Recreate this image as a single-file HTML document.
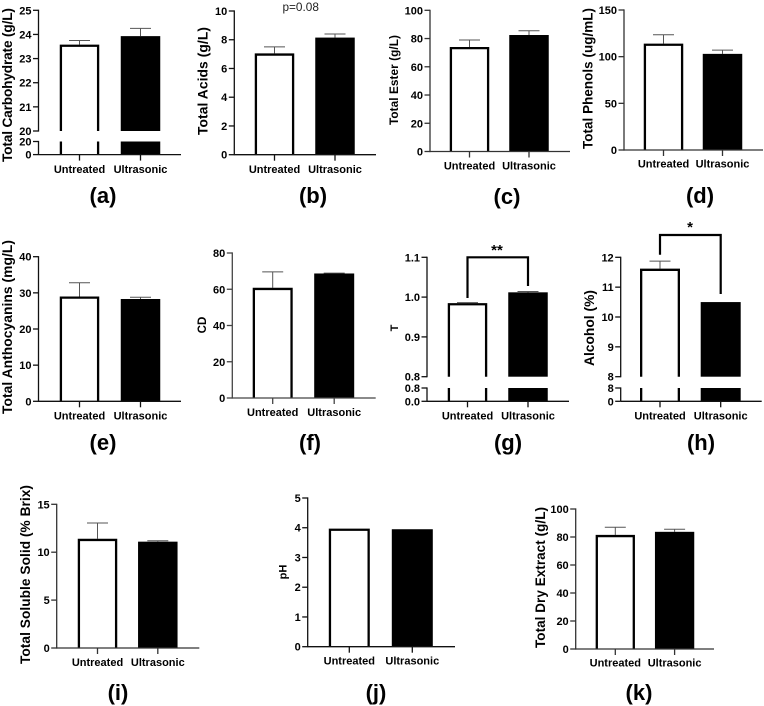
<!DOCTYPE html>
<html lang="en">
<head>
<meta charset="utf-8">
<title>Untreated vs Ultrasonic wine properties</title>
<style>
html,body{margin:0;padding:0;background:#fff;width:764px;height:706px;overflow:hidden}
svg{display:block;filter:blur(0.35px)}
text{font-family:"Liberation Sans",sans-serif;fill:#000}
.yt{font-weight:700}
.pl{font-size:22px;font-weight:700;text-anchor:middle}
</style>
</head>
<body>
<svg id="fig" width="764" height="706" viewBox="0 0 764 706" xmlns="http://www.w3.org/2000/svg">
  <rect width="764" height="706" fill="#fff"/>

  <text class="yt" font-size="13.7" transform="translate(12 85) rotate(-90)" text-anchor="middle" textLength="154">Total Carbohydrate (g/L)</text>
  <text class="yt" font-size="13.8" transform="translate(207.5 81) rotate(-90)" text-anchor="middle" textLength="108">Total Acids (g/L)</text>
  <text class="yt" font-size="11.8" transform="translate(398 80) rotate(-90)" text-anchor="middle" textLength="90">Total Ester (g/L)</text>
  <text class="yt" font-size="13.4" transform="translate(592.5 78.5) rotate(-90)" text-anchor="middle" textLength="141">Total Phenols (ug/mL)</text>
  <text class="yt" font-size="13.8" transform="translate(12 327) rotate(-90)" text-anchor="middle" textLength="174">Total Anthocyanins (mg/L)</text>
  <text class="yt" font-size="11.5" transform="translate(206 325) rotate(-90)" text-anchor="middle">CD</text>
  <text class="yt" font-size="11" transform="translate(398 328) rotate(-90)" text-anchor="middle">T</text>
  <text class="yt" font-size="13.8" transform="translate(594 328) rotate(-90)" text-anchor="middle" textLength="76">Alcohol (%)</text>
  <text class="yt" font-size="13.7" transform="translate(30 574.5) rotate(-90)" text-anchor="middle" textLength="179">Total Soluble Solid (% Brix)</text>
  <text class="yt" font-size="11" transform="translate(286.5 572) rotate(-90)" text-anchor="middle">pH</text>
  <text class="yt" font-size="13.5" transform="translate(545 577.5) rotate(-90)" text-anchor="middle" textLength="141">Total Dry Extract (g/L)</text>

  <text class="pl" x="103" y="203">(a)</text>
  <text class="pl" x="313" y="203">(b)</text>
  <text class="pl" x="507" y="204">(c)</text>
  <text class="pl" x="700" y="203">(d)</text>
  <text class="pl" x="103" y="450">(e)</text>
  <text class="pl" x="310" y="450">(f)</text>
  <text class="pl" x="508" y="450">(g)</text>
  <text class="pl" x="701" y="450">(h)</text>
  <text class="pl" x="118" y="700">(i)</text>
  <text class="pl" x="376" y="700">(j)</text>
  <text class="pl" x="639" y="700">(k)</text>

  <text x="300.7" y="11" font-size="11.8" text-anchor="middle" style="fill:#222">p=0.08</text>
  <text x="497" y="255" font-size="15" font-weight="700" text-anchor="middle">**</text>
  <text x="690" y="232" font-size="15" font-weight="700" text-anchor="middle">*</text>
</svg>

<script>
const categories = ['Untreated', 'Ultrasonic'];

const carbohydrateMeans = [23.58, 23.93];
const carbohydrateErrors = [0.17, 0.32];
const carbohydrateTicks = ['25', '24', '23', '22', '21', '20'];
const carbohydrateLowerTicks = ['20', '0'];

const acidsMeans = [7.05, 8.15];
const acidsErrors = [0.45, 0.25];
const acidsTicks = ['10', '8', '6', '4', '2', '0'];

const esterMeans = [74, 82.5];
const esterErrors = [5, 3];
const esterTicks = ['100', '80', '60', '40', '20', '0'];

const phenolsMeans = [114, 103];
const phenolsErrors = [9.5, 4];
const phenolsTicks = ['150', '100', '50', '0'];

const anthocyaninsMeans = [29, 28.3];
const anthocyaninsErrors = [3.8, 0.5];
const anthocyaninsTicks = ['40', '30', '20', '10', '0'];

const cdMeans = [60.8, 68.7];
const cdErrors = [8.8, 0.2];
const cdTicks = ['80', '60', '40', '20', '0'];

const tMeans = [0.985, 1.012];
const tErrors = [0.001, 0.002];
const tTicks = ['1.1', '1.0', '0.9', '0.8'];
const tLowerTicks = ['0.8', '0.0'];

const alcoholMeans = [11.62, 10.5];
const alcoholErrors = [0.25, 0];
const alcoholTicks = ['12', '11', '10', '9', '8'];
const alcoholLowerTicks = ['8', '0'];

const solubleMeans = [11.4, 11.1];
const solubleErrors = [1.65, 0.1];
const solubleTicks = ['15', '10', '5', '0'];

const phMeans = [3.97, 3.95];
const phErrors = [0, 0];
const phTicks = ['5', '4', '3', '2', '1', '0'];

const extractMeans = [81.5, 83.7];
const extractErrors = [5.5, 1.8];
const extractTicks = ['100', '80', '60', '40', '20', '0'];

const SVG_NS = 'http://www.w3.org/2000/svg';
const fig = document.getElementById('fig');

function mk(parent, tag, attrs) {
  const el = document.createElementNS(SVG_NS, tag);
  for (const k in attrs) el.setAttribute(k, attrs[k]);
  parent.appendChild(el);
  return el;
}

function drawPanel(p) {
  const g = mk(fig, 'g', {});
  
  

  const topMax = Number(p.ticks[0]);
  const topMin = Number(p.ticks[p.ticks.length - 1]);
  const bottomPx = p.broken ? p.broken.topBottom : p.zero;

  function yUpper(v) {
    return bottomPx - (v - topMin) / (topMax - topMin) * (bottomPx - p.top);
  }
  function yLower(v) {
    const lowMax = Number(p.lowerTicks[0]);
    return p.zero - v / lowMax * (p.zero - p.broken.lowTop);
  }
  function xScale(i) {
    return p.first + i * p.step;
  }

  const axisColor = p.axisColor || '#111';

  categories.forEach(function (cat, i) {
    const cx = xScale(i);
    const l = cx - p.barW / 2;
    const r = cx + p.barW / 2;
    const sw = 2.3;
    const yVal = yUpper(p.means[i]);

    if (p.errors[i] > 0) {
      const yErr = yUpper(p.means[i] + p.errors[i]);
      const stem = mk(g, 'line', {x1: cx, x2: cx, y1: yVal, y2: yErr, stroke: '#555', 'stroke-width': 1});
      
      
      const cap = mk(g, 'line', {x1: cx - 10.5, x2: cx + 10.5, y1: yErr, y2: yErr, stroke: '#555', 'stroke-width': 1});
      
      
    }

    if (i === 1) {
      const bar = mk(g, 'rect', {x: l, y: yVal, width: r - l, height: bottomPx - yVal, fill: '#000'});
      
      
      if (p.broken) {
        const low = mk(g, 'rect', {x: l, y: p.broken.lowTop, width: r - l, height: p.zero - p.broken.lowTop, fill: '#000'});
        
        
      }
    } else {
      const a = l + sw / 2;
      const b = r - sw / 2;
      const t = yVal + sw / 2;
      const bar = mk(g, 'path', {d: 'M' + a + ' ' + bottomPx + 'V' + t + 'H' + b + 'V' + bottomPx, fill: '#fff', stroke: '#000', 'stroke-width': sw});
      
      
      if (p.broken) {
        const low = mk(g, 'path', {d: 'M' + a + ' ' + p.broken.lowTop + 'V' + p.zero + 'M' + b + ' ' + p.broken.lowTop + 'V' + p.zero, fill: 'none', stroke: '#000', 'stroke-width': sw});
        
        
      }
    }

    const tick = mk(g, 'line', {x1: cx, x2: cx, y1: p.zero, y2: p.zero + 6, stroke: axisColor, 'stroke-width': 1.3});
    
    

    const label = mk(g, 'text', {x: cx, y: p.zero + p.labelGap, 'font-size': 11, 'font-weight': 700, 'text-anchor': 'middle'});
    label.textContent = cat;
    
    
  });

  function drawYTick(text, y) {
    const tick = mk(g, 'line', {x1: p.axisX - 5.5, x2: p.axisX, y1: y, y2: y, stroke: axisColor, 'stroke-width': 1.3});
    
    
    const label = mk(g, 'text', {x: p.axisX - 7, y: y + 4, 'font-size': 11, 'font-weight': 700, 'text-anchor': 'end'});
    label.textContent = text;
    
    
  }

  p.ticks.forEach(function (t) { drawYTick(t, yUpper(Number(t))); });

  const axisUp = mk(g, 'line', {x1: p.axisX, x2: p.axisX, y1: p.top - 0.6, y2: bottomPx + 0.6, stroke: axisColor, 'stroke-width': 1.3});
  
  

  if (p.broken) {
    p.lowerTicks.forEach(function (t) { drawYTick(t, yLower(Number(t))); });
    const axisLow = mk(g, 'line', {x1: p.axisX, x2: p.axisX, y1: p.broken.lowTop - 0.6, y2: p.zero, stroke: axisColor, 'stroke-width': 1.3});
    
    
  }

  const xAxis = mk(g, 'line', {x1: p.axisX, x2: p.xEnd, y1: p.zero, y2: p.zero, stroke: axisColor, 'stroke-width': 1.3});
  
  

  if (p.bracket) {
    const x0 = xScale(0);
    const x1 = xScale(1);
    const br = mk(g, 'path', {
      d: 'M' + x0 + ' ' + p.bracket.leftEnd + 'V' + p.bracket.top + 'H' + x1 + 'V' + p.bracket.rightEnd,
      fill: 'none', stroke: '#000', 'stroke-width': 2.2
    });
    
    
  }
}

drawPanel({key: 'a', means: carbohydrateMeans, errors: carbohydrateErrors, ticks: carbohydrateTicks, lowerTicks: carbohydrateLowerTicks,
  axisX: 38.5, xEnd: 181, top: 10.3, zero: 154.6, first: 79.5, step: 61, barW: 39.5, labelGap: 18.5,
  broken: {topBottom: 131, lowTop: 141.5}});
drawPanel({key: 'b', means: acidsMeans, errors: acidsErrors, ticks: acidsTicks,
  axisX: 234.3, xEnd: 376, top: 11, zero: 154.7, first: 274.5, step: 60.5, barW: 39.5, labelGap: 18.5});
drawPanel({key: 'c', means: esterMeans, errors: esterErrors, ticks: esterTicks, axisColor: '#333',
  axisX: 430, xEnd: 570, top: 10.3, zero: 151.5, first: 469.5, step: 59.5, barW: 39.5, labelGap: 18});
drawPanel({key: 'd', means: phenolsMeans, errors: phenolsErrors, ticks: phenolsTicks, axisColor: '#333',
  axisX: 624, xEnd: 763, top: 10, zero: 150, first: 663.5, step: 59, barW: 39.5, labelGap: 17.5});
drawPanel({key: 'e', means: anthocyaninsMeans, errors: anthocyaninsErrors, ticks: anthocyaninsTicks,
  axisX: 38.5, xEnd: 181, top: 256.7, zero: 401.3, first: 79.5, step: 61, barW: 39.5, labelGap: 18});
drawPanel({key: 'f', means: cdMeans, errors: cdErrors, ticks: cdTicks, axisColor: '#444',
  axisX: 232.3, xEnd: 375.7, top: 253, zero: 398, first: 272.7, step: 61.5, barW: 40, labelGap: 18});
drawPanel({key: 'g', means: tMeans, errors: tErrors, ticks: tTicks, lowerTicks: tLowerTicks,
  axisX: 427, xEnd: 569, top: 257.3, zero: 401.3, first: 467.5, step: 60.5, barW: 39.5, labelGap: 18,
  broken: {topBottom: 376.7, lowTop: 388},
  bracket: {top: 257.3, leftEnd: 298, rightEnd: 286}});
drawPanel({key: 'h', means: alcoholMeans, errors: alcoholErrors, ticks: alcoholTicks, lowerTicks: alcoholLowerTicks,
  axisX: 620.7, xEnd: 761.7, top: 257.3, zero: 401.3, first: 660, step: 60.7, barW: 40, labelGap: 18,
  broken: {topBottom: 376.7, lowTop: 388},
  bracket: {top: 235, leftEnd: 254.7, rightEnd: 294}});
drawPanel({key: 'i', means: solubleMeans, errors: solubleErrors, ticks: solubleTicks, axisColor: '#333',
  axisX: 56.7, xEnd: 199.3, top: 504.3, zero: 648, first: 97.5, step: 60.3, barW: 39.5, labelGap: 18});
drawPanel({key: 'j', means: phMeans, errors: phErrors, ticks: phTicks,
  axisX: 307.7, xEnd: 455, top: 498, zero: 646.7, first: 349.3, step: 63, barW: 41, labelGap: 18});
drawPanel({key: 'k', means: extractMeans, errors: extractErrors, ticks: extractTicks, axisColor: '#333',
  axisX: 575.7, xEnd: 714, top: 509, zero: 649, first: 615.3, step: 59.3, barW: 39.3, labelGap: 17.5});
</script>
</body>
</html>
